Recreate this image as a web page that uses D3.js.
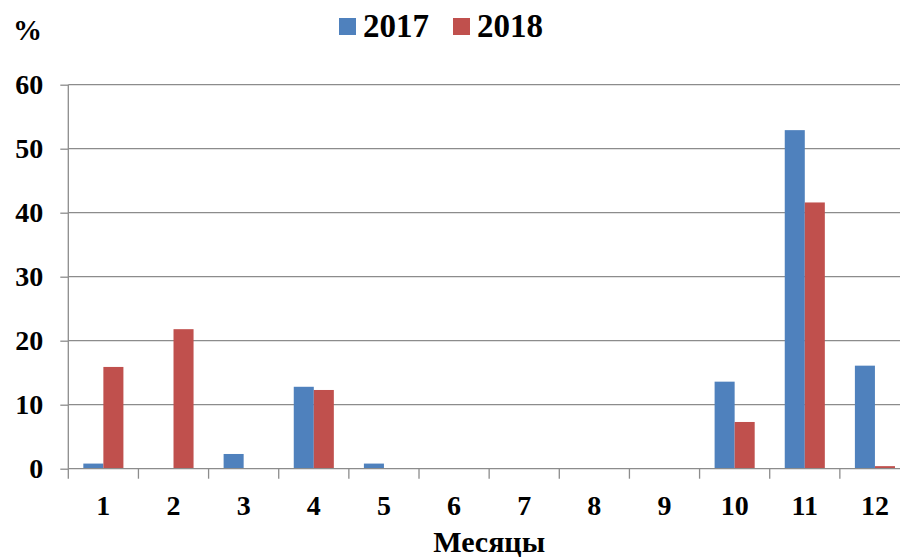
<!DOCTYPE html>
<html>
<head>
<meta charset="utf-8">
<script src="https://cdn.jsdelivr.net/npm/d3@7"></script>
<style>
  html, body { margin: 0; padding: 0; background: #fff; }
  svg { display: block; }
  text { font-family: "Liberation Serif", "Times New Roman", serif; font-weight: bold; fill: #000; }
</style>
</head>
<body>
<svg id="chart" width="900" height="560"></svg>
<script>
// Monthly share, %
const months = ["1", "2", "3", "4", "5", "6", "7", "8", "9", "10", "11", "12"];
const seriesNames = ["2017", "2018"];
const values2017 = [0.8, 0, 2.3, 12.8, 0.8, 0, 0, 0, 0, 13.6, 52.9, 16.1];
const values2018 = [15.9, 21.8, 0, 12.3, 0, 0, 0, 0, 0, 7.3, 41.6, 0.4];
const yTicks = [0, 10, 20, 30, 40, 50, 60];
const colors = ["#4F81BD", "#C0504D"];

const svg = d3.select("#chart");
const plot = { left: 68.3, right: 910, top: 84.7, bottom: 468.7 };

const x = d3.scaleBand().domain(months).range([plot.left, plot.right]).paddingInner(0).paddingOuter(0);
const x1 = d3.scaleBand().domain(seriesNames).range([0, x.bandwidth()]).paddingInner(0).paddingOuter(0.75);
const y = d3.scaleLinear().domain([0, 60]).range([plot.bottom, plot.top]);
const color = d3.scaleOrdinal().domain(seriesNames).range(colors);

const rows = months.map((m, i) => ({ month: m, vals: [values2017[i], values2018[i]] }));

// Horizontal gridlines
svg.append("g").selectAll("line").data(yTicks.filter(t => t > 0)).join("line")
  .attr("x1", plot.left).attr("x2", 900)
  .attr("y1", d => y(d)).attr("y2", d => y(d))
  .attr("stroke", "#8c8c8c").attr("stroke-width", 1.3);

// Y axis
const yAxis = svg.append("g").attr("transform", `translate(${plot.left},0)`)
  .call(d3.axisLeft(y).tickValues(yTicks).tickSize(8).tickPadding(17).tickFormat(d3.format("d")));
yAxis.select(".domain").attr("stroke", "#8c8c8c").attr("stroke-width", 1.3).attr("d", `M0,${plot.top}V${plot.bottom}`);
yAxis.selectAll(".tick line").attr("stroke", "#8c8c8c").attr("stroke-width", 1.3);
yAxis.selectAll(".tick text")
  .attr("font-size", 28).attr("font-family", "Liberation Serif").attr("font-weight", "bold")
  .attr("fill", "#000").attr("dy", "0.32em");

// Bars
const groups = svg.append("g").selectAll("g").data(rows).join("g")
  .attr("transform", d => `translate(${x(d.month)},0)`);
groups.selectAll("rect")
  .data(d => d.vals.map((v, j) => ({ key: seriesNames[j], value: v })).filter(e => e.value > 0))
  .join("rect")
  .attr("x", d => x1(d.key))
  .attr("width", x1.bandwidth())
  .attr("y", d => y(d.value))
  .attr("height", d => y(0) - y(d.value))
  .attr("fill", d => color(d.key));

// X axis
const xAxis = svg.append("g").attr("transform", `translate(0,${plot.bottom})`)
  .call(d3.axisBottom(x).tickSize(0).tickPadding(26));
xAxis.select(".domain").attr("stroke", "#8c8c8c").attr("stroke-width", 1.3).attr("d", `M${plot.left},0H900`);
xAxis.selectAll(".tick text")
  .attr("font-size", 28).attr("font-family", "Liberation Serif").attr("font-weight", "bold")
  .attr("fill", "#000");
// Category separators below the axis
svg.append("g").selectAll("line").data(months).join("line")
  .attr("x1", d => x(d)).attr("x2", d => x(d))
  .attr("y1", plot.bottom).attr("y2", plot.bottom + 10)
  .attr("stroke", "#8c8c8c").attr("stroke-width", 1.3);

// Axis titles
svg.append("text").attr("x", 13).attr("y", 40).attr("font-size", 29).text("%");
svg.append("text").attr("x", (plot.left + plot.right) / 2).attr("y", 552)
  .attr("text-anchor", "middle").attr("font-size", 30).text("Месяцы");

// Legend
const legendX = [339, 453];
const legend = svg.append("g").selectAll("g").data(seriesNames).join("g")
  .attr("transform", (d, i) => `translate(${legendX[i]},0)`);
legend.append("rect").attr("x", 0).attr("y", 18).attr("width", 17).attr("height", 17)
  .attr("fill", d => color(d));
legend.append("text").attr("x", 24).attr("y", 37).attr("font-size", 33).text(d => d);
</script>
</body>
</html>
